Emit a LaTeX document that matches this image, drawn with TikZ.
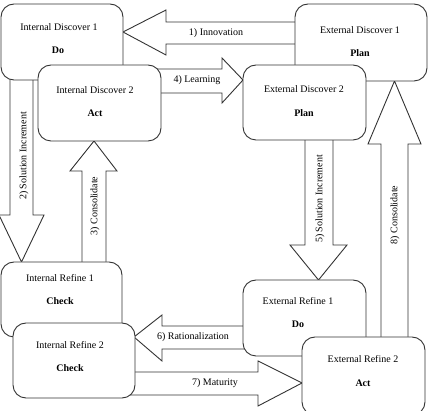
\documentclass[tikz,border=0pt]{standalone}
\usepackage{fontspec}
\setmainfont{Liberation Serif}
\usetikzlibrary{calc}
\begin{document}
\begin{tikzpicture}[x=1pt,y=-1pt,
  box/.style={draw=black!80, line width=0.9pt, fill=white, rounded corners=13pt},
  barrow/.style={draw=black!80, line width=0.9pt, fill=white, line join=miter},
  ttl/.style={font=\fontsize{10}{12}\selectfont, inner sep=0pt},
  sub/.style={font=\fontsize{10}{12}\selectfont\bfseries, inner sep=0pt},
  lbl/.style={font=\fontsize{10}{12}\selectfont, inner sep=0pt}]
\useasboundingbox (0,0) rectangle (429,411);
\clip (0,0) rectangle (429,411);

% ---- block arrows (drawn first, boxes cover their tails) ----
% 1) Innovation : ED1 -> ID1
\coordinate (t1) at (123,32);
\draw[barrow] (t1) -- (166,10) -- (166,22) -- (300,22) -- (300,44) -- (166,44) -- (166,55) -- cycle;
% 4) Learning : ID2 -> ED2
\coordinate (t4) at (243,80);
\draw[barrow] (t4) -- (222,58) -- (222,69) -- (155,69) -- (155,93) -- (222,93) -- (222,103) -- cycle;
% 2) Solution Increment : ID1 -> IR1
\coordinate (t2) at (21.5,262);
\draw[barrow] (t2) -- (-1,215) -- (10,215) -- (10,75) -- (33,75) -- (33,215) -- (44,215) -- cycle;
% 3) Consolidate : IR1 -> ID2
\coordinate (t3) at (94,141);
\draw[barrow] (t3) -- (70,171) -- (82,171) -- (82,267) -- (106,267) -- (106,171) -- (117,171) -- cycle;
% 5) Solution Increment : ED2 -> ER1
\coordinate (t5) at (318.5,280);
\draw[barrow] (t5) -- (290,245) -- (305,245) -- (305,135) -- (333,135) -- (333,245) -- (347,245) -- cycle;
% 8) Consolidate : ER2 -> ED1
\coordinate (t8) at (394.5,81);
\draw[barrow] (t8) -- (368,144) -- (381,144) -- (381,342) -- (408,342) -- (408,144) -- (421,144) -- cycle;
% 6) Rationalization : ER1 -> IR2
\coordinate (t6) at (134,337);
\draw[barrow] (t6) -- (162,315) -- (162,326) -- (248,326) -- (248,349) -- (162,349) -- (162,361) -- cycle;
% 7) Maturity : IR2 -> ER2
\coordinate (t7) at (302,383);
\draw[barrow] (t7) -- (258,361) -- (258,372) -- (130,372) -- (130,395) -- (258,395) -- (258,406) -- cycle;

% ---- boxes ----
\draw[box] (1,4) rectangle (123,80);
\node[inner sep=0pt] (id1) at (62,42) {};
\draw[box] (38,65) rectangle (161,141);
\node[inner sep=0pt] (id2) at (99.5,103) {};
\draw[box] (295,4) rectangle (427,81);
\node[inner sep=0pt] (ed1) at (361,42.5) {};
\draw[box] (243,65) rectangle (366,140);
\node[inner sep=0pt] (ed2) at (304.5,102.5) {};
\draw[box] (1,262) rectangle (122,337);
\node[inner sep=0pt] (ir1) at (61.5,299.5) {};
\draw[box] (13,323) rectangle (135,398);
\node[inner sep=0pt] (ir2) at (74,360.5) {};
\draw[box] (243,280) rectangle (366,356);
\node[inner sep=0pt] (er1) at (304.5,318) {};
\draw[box] (302,337) rectangle (425,415);
\node[inner sep=0pt] (er2) at (363.5,376) {};

% ---- box texts ----
\node[ttl] (id1t) at (59,27) {Internal Discover 1};
\node[sub] (id1s) at (58,50) {Do};
\node[ttl] (id2t) at (95,90) {Internal Discover 2};
\node[sub] (id2s) at (95,113) {Act};
\node[ttl] (ed1t) at (360,30) {External Discover 1};
\node[sub] (ed1s) at (360,53) {Plan};
\node[ttl] (ed2t) at (304,89) {External Discover 2};
\node[sub] (ed2s) at (304,113) {Plan};
\node[ttl] (ir1t) at (60,278) {Internal Refine 1};
\node[sub] (ir1s) at (60,301) {Check};
\node[ttl] (ir2t) at (70,345) {Internal Refine 2};
\node[sub] (ir2s) at (70,368) {Check};
\node[ttl] (er1t) at (298,301) {External Refine 1};
\node[sub] (er1s) at (298,324) {Do};
\node[ttl] (er2t) at (363,359) {External Refine 2};
\node[sub] (er2s) at (363,383) {Act};

% ---- arrow labels ----
\node[lbl] (l1) at (216,33) {1) Innovation};
\node[lbl] (l4) at (197,80) {4) Learning};
\node[lbl, rotate=90] (l2) at (24,156) {2) Solution Increment};
\node[lbl, rotate=90] (l3) at (95,206) {3) Consolidate};
\node[lbl, rotate=90] (l5) at (320,199) {5) Solution Increment};
\node[lbl, rotate=90] (l8) at (395,215) {8) Consolidate};
\node[lbl] (l6) at (193,337) {6) Rationalization};
\node[lbl] (l7) at (215,383) {7) Maturity};
\end{tikzpicture}
\end{document}
